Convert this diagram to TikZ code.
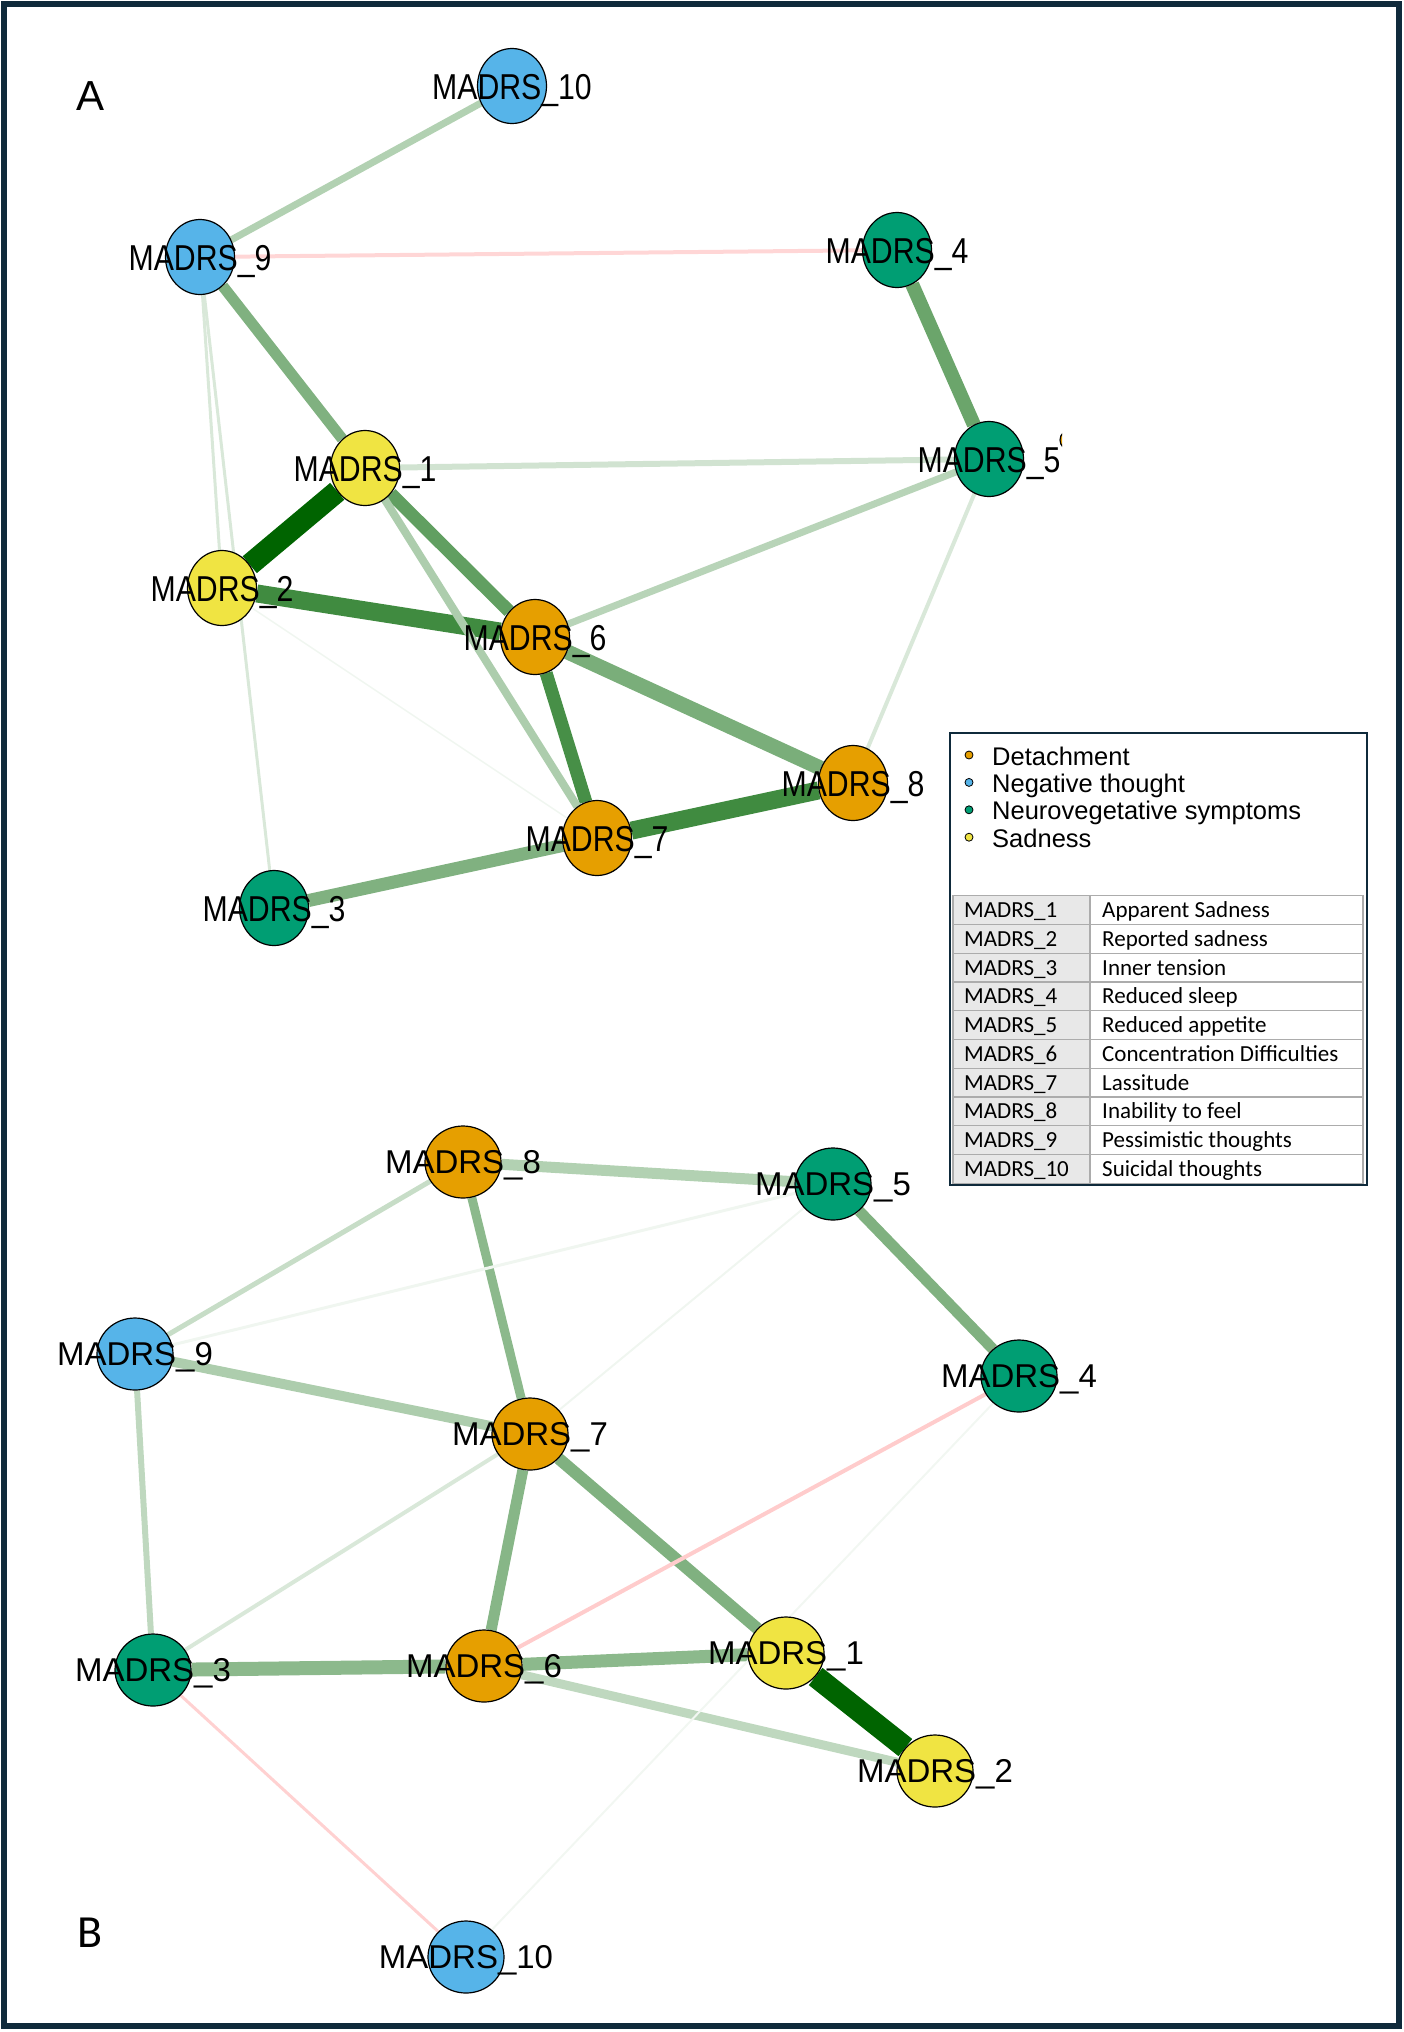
\documentclass[tikz,border=0pt]{standalone}
\usepackage{fontspec}
\setmainfont{Liberation Sans}
\newfontfamily\narrowfont[FakeStretch=0.84]{Liberation Sans}
\newfontfamily\tablefont{Carlito}
\usetikzlibrary{shapes.geometric,backgrounds}
\definecolor{detach}{HTML}{E69F00}
\definecolor{negthought}{HTML}{56B4E9}
\definecolor{neuroveg}{HTML}{009E73}
\definecolor{sadness}{HTML}{F0E442}
\definecolor{posgreen}{RGB}{0,100,0}
\definecolor{framecol}{HTML}{0F2A3B}
\begin{document}
\begin{tikzpicture}[
        x=1pt, y=-1pt,
        labA/.style={font=\narrowfont\fontsize{36}{36}\selectfont, inner sep=0pt, text height=26pt, text depth=0pt},
        labB/.style={font=\fontsize{33}{33}\selectfont, inner sep=0pt, text height=23.6pt, text depth=0pt},
        nA/.style 2 args={ellipse, draw, line width=1.2pt, fill=#1, minimum width=69pt, minimum height=75pt, inner sep=0pt, label={[labA]center:#2}},
        nB/.style 2 args={ellipse, draw, line width=1.2pt, fill=#1, minimum width=76pt, minimum height=72pt, inner sep=0pt, label={[labB]center:#2}},
        pe/.style 2 args={draw=posgreen!#1!white, line width=#2pt},
        ne/.style 2 args={draw=red!#1!white, line width=#2pt},
        dot/.style={circle, draw, line width=0.8pt, minimum size=8pt, inner sep=0pt},
        legtext/.style={anchor=west, inner sep=0pt, font=\fontsize{25.5}{25.5}\selectfont, text height=18.3pt, text depth=0pt},
        tabtext/.style={anchor=west, inner sep=0pt, font=\tablefont\fontsize{23}{23}\selectfont, text height=14.8pt, text depth=0pt},
        gridline/.style={draw=gray!65, line width=1.3pt},
    ]
    \useasboundingbox (0,0) rectangle (1404,2032);
    \draw[framecol, line width=6pt] (4,4) rectangle (1399,2026);

    % panel A
    \node[font=\fontsize{42}{42}\selectfont] (panelA) at (91,96) {A};
    \node[nA={negthought}{MADRS\_10}] (a10) at (512,86) {};
    \node[nA={negthought}{MADRS\_9}] (a9) at (200,257) {};
    \node[nA={neuroveg}{MADRS\_4}] (a4) at (897,250) {};
    \node[nA={sadness}{MADRS\_1}] (a1) at (365,468) {};
    \node[nA={sadness}{MADRS\_2}] (a2) at (222,588) {};
    \node[nA={detach}{MADRS\_6}] (a6) at (535,637) {};
    \node[nA={detach}{MADRS\_8}] (a8) at (853,783) {};
    \node[nA={detach}{MADRS\_7}] (a7) at (597,838) {};
    \node[nA={neuroveg}{MADRS\_3}] (a3) at (274,908) {};
    \begin{scope}
        \clip (0,0) rectangle (1062,2032);
        \node[nA={neuroveg}{MADRS\_5}] (a5) at (989,459) {};
        \node[circle, draw, line width=1.2pt, fill=detach, minimum size=20pt] (a5peek) at (1070,440) {};
    \end{scope}

    \begin{scope}[on background layer]
        \draw[pe={100}{22}] (a1) -- (a2);
        \draw[pe={75}{18}] (a2) -- (a6);
        \draw[pe={75}{18}] (a7) -- (a8);
        \draw[pe={72}{13}] (a6) -- (a7);
        \draw[pe={62}{13}] (a1) -- (a6);
        \draw[pe={52}{15}] (a6) -- (a8);
        \draw[pe={50}{11}] (a9) -- (a1);
        \draw[pe={58}{14}] (a4) -- (a5);
        \draw[pe={50}{13}] (a3) -- (a7);
        \draw[pe={32}{8}] (a1) -- (a7);
        \draw[pe={28}{7}] (a5) -- (a6);
        \draw[pe={30}{7}] (a10) -- (a9);
        \draw[pe={18}{6}] (a1) -- (a5);
        \draw[pe={15}{4}] (a5) -- (a8);
        \draw[pe={15}{3}] (a9) -- (a2);
        \draw[pe={15}{3}] (a9) -- (a3);
        \draw[pe={6}{1.5}] (a2) -- (a7);
        \draw[ne={16}{4}] (a9) -- (a4);
    \end{scope}

    % legend
    \draw[framecol, fill=white, line width=2.5pt] (950,733) rectangle (1367,1185);
    \foreach \col/\name [count=\i] in {detach/Detachment, negthought/Negative thought, neuroveg/Neurovegetative symptoms, sadness/Sadness}{
        \node[dot, fill=\col] (dot\i) at (969,{755+(\i-1)*27.4}) {};
        \node[legtext] (leg\i) at (992,{756+(\i-1)*27.4}) {\name};
    }
    \fill[gray!18] (953,895.7) rectangle (1090,1183.3);
    \foreach \code/\desc [count=\i] in {MADRS\_1/Apparent Sadness, MADRS\_2/Reported sadness, MADRS\_3/Inner tension, MADRS\_4/Reduced sleep, MADRS\_5/Reduced appetite, MADRS\_6/Concentration Difficulties, MADRS\_7/Lassitude, MADRS\_8/Inability to feel, MADRS\_9/Pessimistic thoughts, MADRS\_10/Suicidal thoughts}{
        \draw[gridline] (953,{895.7+(\i-1)*28.76}) -- (1363,{895.7+(\i-1)*28.76});
        \node[tabtext] (code\i) at (964,{910.1+(\i-1)*28.76}) {\code};
        \node[tabtext] (desc\i) at (1102,{910.1+(\i-1)*28.76}) {\desc};
    }
    \draw[gridline] (953,895.7) rectangle (1363,1183.3);
    \draw[gridline] (1090,895.7) -- (1090,1183.3);

    % panel B
    \node[font=\tablefont\fontsize{46}{46}\selectfont] (panelB) at (90,1933) {B};
    \node[nB={detach}{MADRS\_8}] (b8) at (463,1162) {};
    \node[nB={neuroveg}{MADRS\_5}] (b5) at (833,1184) {};
    \node[nB={negthought}{MADRS\_9}] (b9) at (135,1354) {};
    \node[nB={neuroveg}{MADRS\_4}] (b4) at (1019,1376) {};
    \node[nB={detach}{MADRS\_7}] (b7) at (530,1434) {};
    \node[nB={neuroveg}{MADRS\_3}] (b3) at (153,1670) {};
    \node[nB={detach}{MADRS\_6}] (b6) at (484,1666) {};
    \node[nB={sadness}{MADRS\_1}] (b1) at (786,1653) {};
    \node[nB={sadness}{MADRS\_2}] (b2) at (935,1771) {};
    \node[nB={negthought}{MADRS\_10}] (b10) at (466,1957) {};

    \begin{scope}[on background layer]
        \draw[pe={100}{22}] (b1) -- (b2);
        \draw[pe={45}{14}] (b3) -- (b6);
        \draw[pe={45}{13}] (b6) -- (b1);
        \draw[pe={50}{12}] (b7) -- (b1);
        \draw[pe={47}{11}] (b7) -- (b6);
        \draw[pe={45}{9}] (b8) -- (b7);
        \draw[pe={50}{11}] (b5) -- (b4);
        \draw[pe={30}{11}] (b8) -- (b5);
        \draw[pe={32}{10}] (b9) -- (b7);
        \draw[pe={25}{9}] (b6) -- (b2);
        \draw[pe={25}{6}] (b9) -- (b3);
        \draw[pe={22}{5}] (b8) -- (b9);
        \draw[pe={15}{4}] (b7) -- (b3);
        \draw[pe={6}{3}] (b9) -- (b5);
        \draw[pe={6}{2}] (b5) -- (b7);
        \draw[pe={5}{2}] (b10) -- (b4);
        \draw[ne={20}{4}] (b4) -- (b6);
        \draw[ne={18}{3}] (b3) -- (b10);
    \end{scope}
\end{tikzpicture}
\end{document}
